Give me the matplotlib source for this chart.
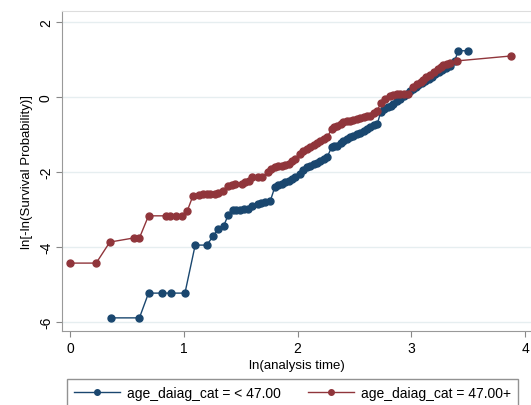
import matplotlib.pyplot as plt

plt.rcParams['font.family'] = ['Liberation Sans', 'DejaVu Sans']

# ln(analysis time) and ln[-ln(S)] for age < 47.00
young_x = [0.36, 0.61, 0.69, 0.81, 0.89, 1.01, 1.10, 1.20, 1.26, 1.30, 1.35, 1.39,
           1.43, 1.46, 1.49, 1.53, 1.56, 1.60, 1.65, 1.68, 1.71, 1.76, 1.80, 1.83,
           1.86, 1.89, 1.92, 1.95, 1.98, 2.02, 2.05, 2.08, 2.11, 2.14, 2.17, 2.20,
           2.23, 2.26, 2.30, 2.32, 2.35, 2.38, 2.40, 2.43, 2.46, 2.49, 2.52, 2.55,
           2.58, 2.61, 2.64, 2.67, 2.70, 2.73, 2.76, 2.79, 2.82, 2.84, 2.87, 2.90,
           2.93, 2.96, 2.99, 3.01, 3.04, 3.06, 3.09, 3.12, 3.15, 3.18, 3.21, 3.24,
           3.27, 3.30, 3.34, 3.38, 3.41, 3.50]
young_y = [-5.89, -5.89, -5.23, -5.23, -5.23, -5.23, -3.95, -3.95, -3.71, -3.52, -3.44, -3.15,
           -3.01, -3.01, -3.01, -3.00, -2.99, -2.91, -2.85, -2.83, -2.80, -2.77, -2.40, -2.36,
           -2.32, -2.28, -2.24, -2.18, -2.13, -2.05, -1.96, -1.87, -1.83, -1.79, -1.75, -1.71,
           -1.66, -1.60, -1.33, -1.32, -1.31, -1.24, -1.17, -1.12, -1.07, -1.03, -0.99, -0.95,
           -0.91, -0.85, -0.80, -0.76, -0.72, -0.40, -0.33, -0.27, -0.23, -0.19, -0.12, -0.05,
           0.02, 0.08, 0.15, 0.21, 0.27, 0.32, 0.38, 0.43, 0.48, 0.53, 0.60, 0.67,
           0.72, 0.77, 0.83, 0.96, 1.23, 1.23]

# age 47.00+
old_x = [0.00, 0.23, 0.35, 0.56, 0.61, 0.69, 0.84, 0.88, 0.93, 0.98, 1.03, 1.08,
         1.13, 1.17, 1.20, 1.23, 1.27, 1.30, 1.34, 1.39, 1.42, 1.45, 1.51, 1.54,
         1.57, 1.60, 1.65, 1.69, 1.74, 1.77, 1.80, 1.83, 1.86, 1.89, 1.92, 1.95,
         1.98, 2.02, 2.05, 2.08, 2.11, 2.14, 2.17, 2.20, 2.23, 2.26, 2.30, 2.32,
         2.35, 2.38, 2.40, 2.43, 2.46, 2.49, 2.52, 2.55, 2.58, 2.61, 2.64, 2.67,
         2.70, 2.73, 2.77, 2.81, 2.84, 2.87, 2.90, 2.93, 2.97, 3.01, 3.05, 3.08,
         3.10, 3.13, 3.16, 3.20, 3.23, 3.26, 3.28, 3.31, 3.34, 3.40, 3.87]
old_y = [-4.43, -4.43, -3.87, -3.76, -3.76, -3.17, -3.17, -3.17, -3.17, -3.17, -3.04, -2.64,
         -2.62, -2.59, -2.59, -2.59, -2.59, -2.55, -2.51, -2.37, -2.34, -2.32, -2.32, -2.28,
         -2.24, -2.13, -2.13, -2.13, -2.00, -1.93, -1.87, -1.85, -1.84, -1.81, -1.79, -1.72,
         -1.65, -1.52, -1.45, -1.39, -1.33, -1.28, -1.22, -1.17, -1.12, -1.07, -0.85, -0.81,
         -0.77, -0.72, -0.67, -0.65, -0.64, -0.61, -0.59, -0.56, -0.53, -0.52, -0.51, -0.44,
         -0.37, -0.16, -0.05, 0.03, 0.05, 0.08, 0.08, 0.08, 0.08, 0.27, 0.35, 0.40,
         0.45, 0.52, 0.59, 0.67, 0.75, 0.80, 0.85, 0.88, 0.91, 0.96, 1.09]

blue = '#1a476f'
red = '#90353b'

fig = plt.figure(figsize=(5.31, 4.06), dpi=100)
ax = fig.add_axes([62 / 531, 74 / 406, 1 - 62 / 531, 320 / 406])

l1, = ax.plot(young_x, young_y, color=blue, lw=1, marker='o', ms=5, mec=blue)
l2, = ax.plot(old_x, old_y, color=red, lw=1, marker='o', ms=5, mec=red)

ax.set_xlim(-0.07, 4.05)
ax.set_ylim(-6.24, 2.29)
ax.set_xticks([0, 1, 2, 3, 4])
ax.set_yticks([-6, -4, -2, 0, 2])
ax.set_yticklabels(['-6', '-4', '-2', '0', '2'], rotation=90, va='center')
ax.tick_params(labelsize=10, color='#888888', length=4, pad=3)
ax.tick_params(axis='y', pad=2.5)
ax.grid(axis='y', color='#e6eef0', lw=1)
ax.set_axisbelow(True)
for s in ['left', 'bottom']:
    ax.spines[s].set_color('#999999')
ax.spines['top'].set_color('#dddddd')
ax.spines['right'].set_visible(False)

ax.set_xlabel('ln(analysis time)', fontsize=9.5, labelpad=3)
ax.set_ylabel('ln[-ln(Survival Probability)]', fontsize=9.5)
ax.yaxis.set_label_coords(-0.062, 0.5)

fig.legend([l1, l2], ['age_daiag_cat = < 47.00', 'age_daiag_cat = 47.00+'],
           loc='upper left', bbox_to_anchor=(67 / 531, 1 - 380 / 406), ncol=2,
           fontsize=10, frameon=True, fancybox=False, edgecolor='#777777',
           handlelength=3.3, handletextpad=0.5, columnspacing=2.0,
           borderpad=0.5, borderaxespad=0, markerscale=0.8)

fig.savefig('out.png', dpi=100)
